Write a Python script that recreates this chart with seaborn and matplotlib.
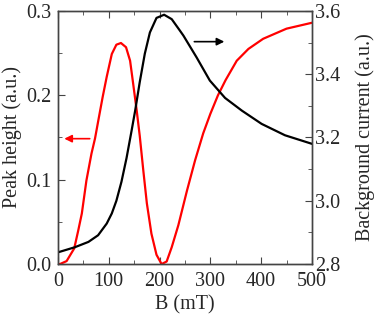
import numpy as np
import pandas as pd
import seaborn as sns
import matplotlib.pyplot as plt
from matplotlib.ticker import MultipleLocator

# peak height (left axis)
B_PEAK = [0, 4, 17, 32, 40, 47, 56, 66, 73, 80, 88, 96, 106, 115, 124, 134,
          142, 148, 155, 161, 168, 175, 184, 194, 204, 214, 224, 237, 254,
          270, 286, 300, 315, 330, 352, 375, 404, 450, 500]
PEAK = [0.0, 0.0, 0.0035, 0.0185, 0.040, 0.060, 0.099, 0.131, 0.149, 0.172,
        0.198, 0.222, 0.249, 0.26, 0.262, 0.257, 0.241, 0.214, 0.182, 0.152,
        0.111, 0.072, 0.036, 0.011, 0.0, 0.003, 0.020, 0.046, 0.087, 0.123,
        0.155, 0.178, 0.2, 0.218, 0.241, 0.255, 0.267, 0.279, 0.286]

# background current (right axis)
B_BG = [0, 33, 60, 79, 96, 106, 115, 125, 135, 145, 152, 161, 171, 181, 194,
        209, 224, 240, 247, 273, 299, 329, 362, 401, 447, 500]
BG = [2.837, 2.853, 2.870, 2.891, 2.928, 2.96, 3.0, 3.06, 3.135, 3.222,
      3.285, 3.375, 3.465, 3.532, 3.578, 3.588, 3.574, 3.538, 3.522, 3.453,
      3.38, 3.325, 3.285, 3.243, 3.207, 3.18]

FONT = "Liberation Serif"
AXIS_COL = "#444444"

sns.set_style("ticks")
plt.rcParams['font.family'] = [FONT, 'DejaVu Serif']

df_peak = pd.DataFrame({"B": B_PEAK, "peak": PEAK})
df_bg = pd.DataFrame({"B": B_BG, "bg": BG})

fig = plt.figure(figsize=(3.74, 3.22), dpi=100)
ax = fig.add_axes([0.155, 0.18, 0.679, 0.786])
ax2 = ax.twinx()

sns.lineplot(data=df_peak, x="B", y="peak", ax=ax, color="#ff0000", lw=1.6)
sns.lineplot(data=df_bg, x="B", y="bg", ax=ax2, color="black", lw=1.6)

ax.set_xlim(0, 500)
ax.set_ylim(0, 0.3)
ax2.set_ylim(2.8, 3.6)

ax.xaxis.set_major_locator(MultipleLocator(100))
ax.xaxis.set_minor_locator(MultipleLocator(50))
ax.yaxis.set_major_locator(MultipleLocator(0.1))
ax.yaxis.set_minor_locator(MultipleLocator(0.05))
ax2.yaxis.set_major_locator(MultipleLocator(0.2))
ax2.yaxis.set_minor_locator(MultipleLocator(0.1))
ax.yaxis.set_major_formatter(plt.FormatStrFormatter('%.1f'))
ax2.yaxis.set_major_formatter(plt.FormatStrFormatter('%.1f'))

ax.tick_params(axis="x", which="both", direction="in", top=True)
ax.tick_params(axis="y", which="both", direction="in", right=False)
ax2.tick_params(axis="y", which="both", direction="in")
for a in (ax, ax2):
    a.tick_params(which="major", length=5, labelsize=14.5, color=AXIS_COL)
    a.tick_params(which="minor", length=3, color=AXIS_COL)
    for s in a.spines.values():
        s.set_visible(True)
        s.set_color(AXIS_COL)
        s.set_linewidth(1.0)
ax.tick_params(axis="x", which="major", pad=6)
ax.tick_params(axis="y", which="major", pad=5)
ax2.tick_params(axis="y", which="major", pad=2)

ax.set_xlabel("B (mT)", fontsize=14.5, labelpad=3)
ax.set_ylabel("Peak height (a.u.)", fontsize=14.5, labelpad=3)
ax2.set_ylabel("Background current (a.u.)", fontsize=14.5, labelpad=11)

# arrows showing which axis each curve belongs to
ax.annotate("", xy=(7, 0.1486), xytext=(68, 0.1486),
            arrowprops=dict(arrowstyle="-|>", color="#ff0000", lw=1.2,
                            mutation_scale=11))
ax.annotate("", xy=(333, 0.2636), xytext=(263, 0.2636),
            arrowprops=dict(arrowstyle="-|>", color="black", lw=1.2,
                            mutation_scale=11))

fig.savefig("out.png", dpi=100)
